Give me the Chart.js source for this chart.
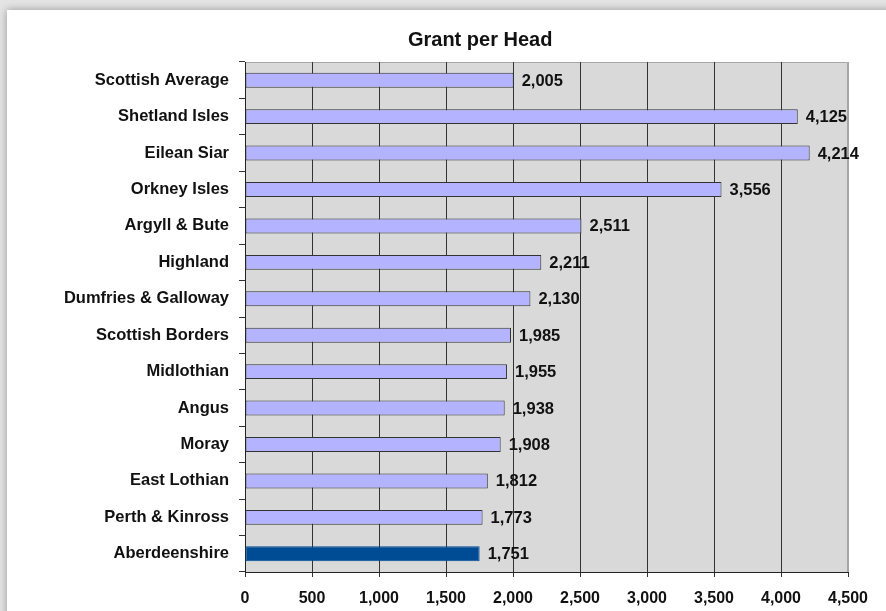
<!DOCTYPE html>
<html>
<head>
<meta charset="utf-8">
<script src="https://cdn.jsdelivr.net/npm/chart.js@4"></script>
<style>
  html, body { margin: 0; padding: 0; background: #e4e4e4; overflow: hidden; }
  #frame { position: absolute; left: 7px; top: 10px; width: 900px; height: 640px; background: #fff; box-shadow: 0 0 8px rgba(0,0,0,0.35); }
  #wrap { position: absolute; left: 0; top: 0; width: 886px; height: 611px; }
</style>
</head>
<body>
<div id="frame"></div>
<div id="wrap"><canvas id="grantChart"></canvas></div>
<script>
const councils = ["Scottish Average","Shetland Isles","Eilean Siar","Orkney Isles","Argyll & Bute","Highland","Dumfries & Galloway","Scottish Borders","Midlothian","Angus","Moray","East Lothian","Perth & Kinross","Aberdeenshire"];
const grantPerHead = [2005,4125,4214,3556,2511,2211,2130,1985,1955,1938,1908,1812,1773,1751];
const xTicks = [0,500,1000,1500,2000,2500,3000,3500,4000,4500];
const chartTitle = "Grant per Head";

const lavender = '#b3b3ff';
const darkBlue = '#004c94';
const fontFam = '"Liberation Sans", Arial, sans-serif';

// grey plot background with light frame on top / right, plus the title
const plotBack = {
	id: 'plotBack',
	beforeDraw(chart){
		let a = chart.chartArea, ctx = chart.ctx;
		ctx.save();
		ctx.fillStyle = '#d9d9d9';
		ctx.fillRect(a.left, a.top, a.right-a.left, a.bottom-a.top);
		ctx.strokeStyle = '#a6a6a6';
		ctx.lineWidth = 1;
		ctx.beginPath();
		ctx.moveTo(a.left, a.top+0.5);
		ctx.lineTo(a.right-0.5, a.top+0.5);
		ctx.lineTo(a.right-0.5, a.bottom);
		ctx.stroke();
		// title sits a bit left of the plot centre
		ctx.font = 'bold 20px ' + fontFam;
		ctx.fillStyle = '#111';
		ctx.textAlign = 'center';
		ctx.textBaseline = 'middle';
		ctx.fillText(chartTitle, a.left + (a.right-a.left)*0.39, 40);
		ctx.restore();
	}
};

// value labels at the end of each bar
const valueLabels = {
	id: 'valueLabels',
	afterDatasetsDraw(chart){
		let ctx = chart.ctx;
		let meta = chart.getDatasetMeta(0);
		ctx.save();
		ctx.font = 'bold 16.5px ' + fontFam;
		ctx.fillStyle = '#111';
		ctx.textAlign = 'left';
		ctx.textBaseline = 'middle';
		for(let i=0;i<meta.data.length;i++){
			let bar = meta.data[i];
			ctx.fillText(grantPerHead[i].toLocaleString('en-US'), bar.x+8, bar.y+1);
		}
		ctx.restore();
	}
};

let ctx = document.getElementById('grantChart').getContext('2d');
let grantGraph = new Chart(ctx, {
	type: 'bar',
	data: {
		labels: councils,
		datasets: [{
			data: grantPerHead,
			backgroundColor: councils.map((c,i) => i==councils.length-1 ? darkBlue : lavender),
			borderColor: councils.map((c,i) => i==councils.length-1 ? darkBlue : '#333'),
			borderWidth: 1,
			borderSkipped: false,
			barPercentage: 0.41,
			categoryPercentage: 1
		}]
	},
	plugins: [plotBack, valueLabels],
	options: {
		indexAxis: 'y',
		responsive: true,
		maintainAspectRatio: false,
		animation: false,
		layout: { padding: { left: 0, right: 38, top: 62, bottom: 0 } },
		plugins: {
			legend: { display: false },
			tooltip: { enabled: false },
			title: { display: false }
		},
		scales: {
			x: {
				min: 0,
				max: 4500,
				afterBuildTicks: axis => { axis.ticks = xTicks.map(v => ({ value: v })); },
				ticks: {
					color: '#111',
					padding: 12,
					font: { family: fontFam, size: 16, weight: 'bold' },
					callback: v => v.toLocaleString('en-US')
				},
				grid: {
					color: c => c.index == xTicks.length-1 ? '#a6a6a6' : '#333',
					tickColor: '#333',
					tickLength: 5,
					lineWidth: 1
				},
				border: { color: '#222', width: 1 },
				afterFit: axis => { axis.height = 39; }
			},
			y: {
				ticks: {
					color: '#111',
					padding: 10,
					font: { family: fontFam, size: 16.5, weight: 'bold' }
				},
				grid: {
					offset: true,
					drawOnChartArea: false,
					color: '#333',
					tickLength: 6
				},
				border: { color: '#222', width: 1 },
				afterFit: axis => { axis.width = 245; }
			}
		}
	}
});
</script>
</body>
</html>
